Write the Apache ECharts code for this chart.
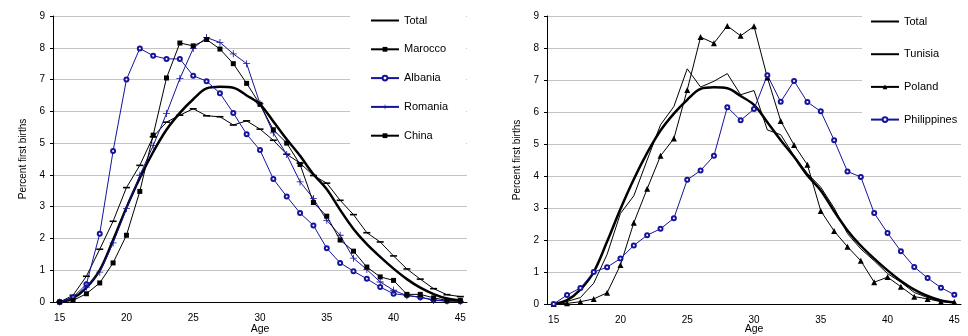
<!DOCTYPE html>
<html><head><meta charset="utf-8">
<script src="https://cdn.jsdelivr.net/npm/echarts@6/dist/echarts.min.js"></script>
<style>html,body{margin:0;padding:0;background:#fff}#c{width:968px;height:336px}</style>
</head><body><div id="c"></div>
<script>
const ages = ['15','16','17','18','19','20','21','22','23','24','25','26','27','28','29','30','31','32','33','34','35','36','37','38','39','40','41','42','43','44','45'];
const yTicks = [0,1,2,3,4,5,6,7,8,9];
const total = [0,0.12,0.45,1.0,1.95,2.97,3.9,4.72,5.42,5.95,6.38,6.72,6.77,6.74,6.5,6.22,5.68,5.12,4.6,4.02,3.55,2.9,2.3,1.82,1.42,1.05,0.72,0.45,0.25,0.11,0.05];
const marocco = [0,0.21,0.81,1.66,2.54,3.6,4.3,5.2,5.66,5.88,6.08,5.86,5.83,5.57,5.7,5.44,5.09,4.65,4.37,3.98,3.74,3.2,2.75,2.18,1.89,1.45,1.04,0.72,0.42,0.23,0.17];
const albania = [0,0.15,0.56,2.15,4.75,7.0,7.98,7.75,7.65,7.65,7.12,6.95,6.57,5.95,5.28,4.78,3.87,3.32,2.8,2.41,1.69,1.23,0.97,0.73,0.47,0.26,0.21,0.15,0.07,0.03,0.02];
const romania = [0,0.12,0.47,0.94,1.86,2.94,3.99,4.92,5.93,7.03,7.98,8.32,8.17,7.81,7.5,6.24,5.32,4.64,3.78,3.26,2.57,2.1,1.38,1.02,0.63,0.37,0.2,0.15,0.05,0.03,0.02];
const china = [0,0.05,0.26,0.6,1.23,2.1,3.48,5.25,7.05,8.15,8.06,8.26,7.96,7.5,6.88,6.22,5.42,5.0,4.33,3.13,2.7,1.95,1.6,1.1,0.79,0.68,0.24,0.24,0.13,0.05,0.05];
const tunisia = [0,0.08,0.2,0.65,1.55,2.83,3.38,4.5,5.6,6.17,7.35,6.78,6.96,7.2,6.54,6.67,5.44,5.29,4.63,4.08,3.65,3.0,2.2,1.72,1.35,0.95,0.68,0.36,0.2,0.08,0.05];
const poland = [0,0.02,0.07,0.16,0.35,1.22,2.54,3.6,4.63,5.17,6.69,8.34,8.15,8.69,8.38,8.68,7.08,5.72,4.97,4.35,2.91,2.28,1.79,1.35,0.68,0.84,0.54,0.23,0.16,0.07,0.06];
const philippines = [0,0.28,0.5,1.0,1.15,1.42,1.83,2.15,2.35,2.68,3.88,4.17,4.63,6.15,5.74,6.09,7.15,6.32,6.97,6.31,6.02,5.12,4.14,3.97,2.84,2.22,1.65,1.16,0.81,0.51,0.29];

const FF = "'Liberation Sans', Arial, sans-serif";
const BLUE = '#14149c';
const PLUS = 'path://M-0.12,-1H0.12V-0.12H1V0.12H0.12V1H-0.12V0.12H-1V-0.12H-0.12Z';
const DASH = 'path://M0,0H7V1.6H0Z';

function xAx(gi, gap){
  return {type:'category', gridIndex:gi, data:ages, boundaryGap:true,
    axisLine:{lineStyle:{color:'#000',width:1}},
    axisTick:{interval:0,length:4,lineStyle:{color:'#000'}},
    axisLabel:{interval:4,fontSize:10,color:'#000',margin:11,fontFamily:FF},
    splitLine:{show:false},
    name:'Age', nameLocation:'middle', nameGap:gap, nameMoveOverlap:false,
    nameTextStyle:{fontSize:10.5,color:'#000',fontFamily:FF,verticalAlign:'middle'}};
}
function yAx(gi, gap){
  return {type:'value', gridIndex:gi, min:yTicks[0], max:yTicks[yTicks.length-1], interval:1,
    axisLine:{show:true,lineStyle:{color:'#000',width:1}},
    axisTick:{show:true,length:3,lineStyle:{color:'#000'}},
    axisLabel:{fontSize:10,color:'#000',margin:8,fontFamily:FF},
    splitLine:{lineStyle:{color:'#c4c4c4',width:1}},
    name:'Percent first births', nameLocation:'middle', nameGap:gap, nameMoveOverlap:false,
    nameTextStyle:{fontSize:10,color:'#000',fontFamily:FF}};
}
function line(name, data, gi, opts){
  return Object.assign({type:'line', name, data, xAxisIndex:gi, yAxisIndex:gi,
    symbol:'none', smooth:false, symbolKeepAspect:true,
    lineStyle:{color:'#000',width:1}, itemStyle:{color:'#000'}}, opts||{});
}
const hideSym = {itemStyle:{opacity:0}};

const chart = echarts.init(document.getElementById('c'), null, {renderer:'canvas'});
chart.setOption({
  animation:false,
  backgroundColor:'#fff',
  textStyle:{fontFamily:FF},
  grid:[
    {left:53, top:16, width:414, height:286, containLabel:false, outerBoundsMode:'none'},
    {left:547, top:16, width:414, height:288, containLabel:false, outerBoundsMode:'none'}
  ],
  xAxis:[xAx(0,27), xAx(1,25)],
  yAxis:[yAx(0,24.5), yAx(1,25)],
  legend:[
    {orient:'vertical', left:350, top:0, padding:[15,18,10,20], itemGap:17.8,
     itemWidth:28, itemHeight:6, backgroundColor:'#fff', z:10, symbolKeepAspect:true,
     textStyle:{fontSize:11,color:'#000',fontFamily:FF},
     data:[Object.assign({name:'Total'},hideSym),'Marocco','Albania','Romania','China']},
    {orient:'vertical', left:862, top:0, padding:[16,6,4,8], itemGap:21.7,
     itemWidth:28, itemHeight:6, backgroundColor:'#fff', z:10, symbolKeepAspect:true,
     textStyle:{fontSize:11,color:'#000',fontFamily:FF},
     data:[Object.assign({name:'Total '},hideSym),Object.assign({name:'Tunisia'},hideSym),'Poland','Philippines']}
  ],
  series:[
    line('Total', total, 0, {smooth:0.35, lineStyle:{color:'#000',width:2.5}}),
    line('Marocco', marocco, 0, {symbol:DASH, symbolSize:7, showSymbol:true}),
    line('Albania', albania, 0, {symbol:'emptyCircle', symbolSize:4, lineStyle:{color:BLUE,width:1}, itemStyle:{color:BLUE, borderColor:BLUE, borderWidth:1}}),
    line('Romania', romania, 0, {symbol:PLUS, symbolSize:7, lineStyle:{color:BLUE,width:1}, itemStyle:{color:BLUE}}),
    line('China', china, 0, {symbol:'rect', symbolSize:5}),
    line('Total ', total, 1, {smooth:0.35, lineStyle:{color:'#000',width:2.5}}),
    line('Tunisia', tunisia, 1, {}),
    line('Poland', poland, 1, {symbol:'triangle', symbolSize:6}),
    line('Philippines', philippines, 1, {symbol:'emptyCircle', symbolSize:4, lineStyle:{color:BLUE,width:1}, itemStyle:{color:BLUE, borderColor:BLUE, borderWidth:1}})
  ]
});
</script>
</body></html>
